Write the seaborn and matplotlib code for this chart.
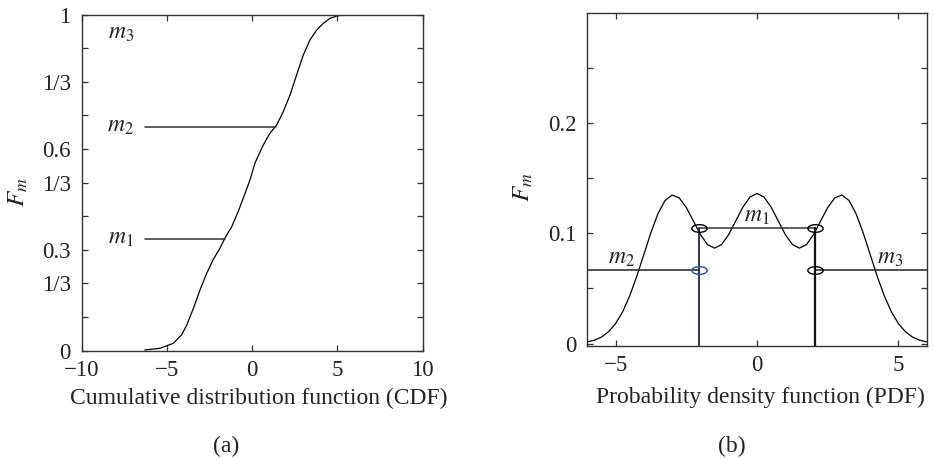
import numpy as np
import matplotlib
matplotlib.use("Agg")
import matplotlib.pyplot as plt
from matplotlib.path import Path
from matplotlib.transforms import Affine2D
import seaborn as sns

# CDF curve
cdf_x = [-6.29, -5.41, -4.63, -4.14, -3.84, -3.45, -3.06, -2.67, -2.28, -1.89,
         -1.60, -1.20, -0.82, -0.42, -0.13, 0.16, 0.65, 1.04, 1.44, 1.82,
         2.22, 2.61, 3.00, 3.39, 3.78, 4.17, 4.56, 4.96, 5.34, 6.05]
cdf_y = [0.002, 0.007, 0.022, 0.047, 0.076, 0.126, 0.181, 0.230, 0.272, 0.305,
         0.335, 0.369, 0.414, 0.468, 0.508, 0.558, 0.612, 0.647, 0.672, 0.711,
         0.761, 0.821, 0.880, 0.925, 0.954, 0.974, 0.989, 0.996, 0.999, 1.000]
cdf_levels = [1/3, 2/3]
cdf_cross = [-1.62, 1.40]
cdf_line_start = -6.29
cdf_ticks = [0, 0.2, 0.3, 0.5, 0.6, 0.8, 1.0]
cdf_ticklabels = ["0", "1/3", "0.3", "1/3", "0.6", "1/3", "1"]

# PDF curve
pdf_x = [-6.0, -5.75, -5.5, -5.25, -5.0, -4.75, -4.5, -4.25, -4.0, -3.75,
         -3.5, -3.25, -3.0, -2.75, -2.5, -2.25, -2.0, -1.75, -1.5, -1.25,
         -1.0, -0.75, -0.5, -0.25, 0.0, 0.25, 0.5, 0.75, 1.0, 1.25,
         1.5, 1.75, 2.0, 2.25, 2.5, 2.75, 3.0, 3.25, 3.5, 3.75,
         4.0, 4.25, 4.5, 4.75, 5.0, 5.25, 5.5, 5.75, 6.0]
pdf_y = [0.0015, 0.0030, 0.0058, 0.0106, 0.0180, 0.0288, 0.0432, 0.0609, 0.0807, 0.1005,
         0.1177, 0.1296, 0.1345, 0.1319, 0.1232, 0.1110, 0.0987, 0.0896, 0.0864, 0.0897,
         0.0987, 0.1111, 0.1235, 0.1326, 0.1359, 0.1326, 0.1235, 0.1111, 0.0987, 0.0897,
         0.0864, 0.0896, 0.0987, 0.1110, 0.1232, 0.1319, 0.1345, 0.1296, 0.1177, 0.1005,
         0.0807, 0.0609, 0.0432, 0.0288, 0.0180, 0.0106, 0.0058, 0.0030, 0.0015]
split_x = [-2.06, 2.06]
level_m1 = 0.105
level_m23 = 0.067

sns.set_style("ticks")
plt.rcParams['font.family'] = ['Liberation Serif', 'DejaVu Serif']
plt.rcParams['mathtext.fontset'] = 'stix'

ink = '#222222'
fig = plt.figure(figsize=(9.34, 4.59), dpi=100)
ax1 = fig.add_axes([0.0875, 0.236, 0.365, 0.732])
ax2 = fig.add_axes([0.6288, 0.2468, 0.3634, 0.724])

for ax in (ax1, ax2):
    for s in ax.spines.values():
        s.set_visible(True)
        s.set_linewidth(1.0)
        s.set_color('#333333')
    ax.tick_params(direction='in', length=4, width=0.9, color='#333333',
                   top=True, right=True, labelsize=16.5, labelcolor=ink)
    ax.tick_params(axis='x', pad=7)
    ax.tick_params(axis='y', pad=8)

# panel (a)
sns.lineplot(x=cdf_x, y=cdf_y, ax=ax1, color='black', linewidth=0.9, sort=False)
for lev, xc in zip(cdf_levels, cdf_cross):
    ax1.plot([cdf_line_start, xc], [lev, lev], color='#333333', linewidth=1.1)
ax1.set_xlim(-10, 10)
ax1.set_ylim(0, 1)
ax1.set_xticks([-10, -5, 0, 5, 10])
yt = np.round(np.arange(0, 1.01, 0.1), 1)
ax1.set_yticks(yt)
ax1.set_yticklabels([cdf_ticklabels[cdf_ticks.index(t)] if t in cdf_ticks else "" for t in yt])
ax1.text(-7.7, 0.944, "$m_3$", fontsize=17, ha='center', va='center', color=ink)
ax1.text(-7.7, 2/3, "$m_2$", fontsize=17, ha='center', va='center', color=ink)
ax1.text(-7.7, 1/3, "$m_1$", fontsize=17, ha='center', va='center', color=ink)
ax1.set_xlabel("Cumulative distribution function (CDF)", fontsize=17, color=ink)
ax1.xaxis.set_label_coords(0.52, -0.141)
ax1.xaxis.label.set_va('center')
ax1.set_ylabel("$F_m$", fontsize=18, color=ink)
ax1.yaxis.set_label_coords(-0.187, 0.472)
ax1.yaxis.label.set_va('center')

# panel (b)
sns.lineplot(x=pdf_x, y=pdf_y, ax=ax2, color='black', linewidth=0.9, sort=False)
ax2.plot([split_x[0], split_x[1]], [level_m1, level_m1], color='#333333', linewidth=1.1)
ax2.plot([-6, split_x[0]], [level_m23, level_m23], color='#222222', linewidth=1.1)
ax2.plot([split_x[1], 6], [level_m23, level_m23], color='#222222', linewidth=1.1)
ax2.plot([split_x[0], split_x[0]], [-0.01, level_m1], color='#1f2a44', linewidth=1.3)
ax2.plot([split_x[1], split_x[1]], [-0.01, level_m1], color='#111111', linewidth=1.6)

ell = Path(Affine2D().scale(1.0, 0.5).transform(Path.unit_circle().vertices),
           Path.unit_circle().codes)
ax2.plot([split_x[0], split_x[1], split_x[1]], [level_m1, level_m1, level_m23],
         linestyle='none', marker=ell, markersize=11, markerfacecolor='none',
         markeredgecolor='black', markeredgewidth=1.0)
ax2.plot([split_x[0]], [level_m23], linestyle='none', marker=ell, markersize=11,
         markerfacecolor='none', markeredgecolor='#2a4aa8', markeredgewidth=1.0)

ax2.text(0.0, 0.1146, "$m_1$", fontsize=17, ha='center', va='center', color=ink)
ax2.text(-4.78, 0.077, "$m_2$", fontsize=17, ha='center', va='center', color=ink)
ax2.text(4.70, 0.077, "$m_3$", fontsize=17, ha='center', va='center', color=ink)
ax2.set_xlim(-6, 6)
ax2.set_ylim(-0.002, 0.299)
ax2.set_xticks([-5, 0, 5])
ax2.set_yticks(np.arange(0, 0.26, 0.05))
ax2.set_yticklabels(["0", "", "0.1", "", "0.2", ""])
ax2.set_xlabel("Probability density function (PDF)", fontsize=17, color=ink)
ax2.xaxis.set_label_coords(0.509, -0.155)
ax2.xaxis.label.set_va('center')
ax2.set_ylabel("$F_m$", fontsize=18, color=ink)
ax2.yaxis.set_label_coords(-0.189, 0.477)
ax2.yaxis.label.set_va('center')

fig.text(0.242, 0.028, "(a)", fontsize=17, ha='center', va='center', color=ink)
fig.text(0.784, 0.028, "(b)", fontsize=17, ha='center', va='center', color=ink)

fig.savefig("out.png", dpi=100)
